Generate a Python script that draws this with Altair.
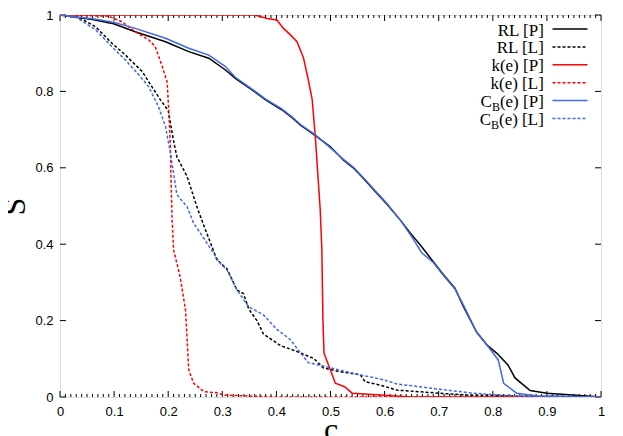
import altair as alt
import pandas as pd

# ---------------- data ----------------
rl_p_c = [0.0, 0.03, 0.06, 0.099, 0.139, 0.195, 0.238, 0.275, 0.306, 0.324, 0.355, 0.38, 0.41, 0.43, 0.444,
          0.472, 0.50, 0.524, 0.542, 0.561, 0.586, 0.604, 0.629, 0.650, 0.666, 0.690, 0.710, 0.730, 0.746,
          0.770, 0.790, 0.807, 0.828, 0.841, 0.869, 0.90, 0.948, 1.0]
rl_p_s = [1.0, 0.994, 0.988, 0.977, 0.956, 0.930, 0.904, 0.887, 0.856, 0.834, 0.804, 0.778, 0.752, 0.730, 0.712,
          0.684, 0.655, 0.620, 0.600, 0.572, 0.533, 0.505, 0.463, 0.425, 0.398, 0.354, 0.318, 0.285, 0.236,
          0.170, 0.135, 0.115, 0.084, 0.050, 0.017, 0.010, 0.005, 0.0]

rl_l_c = [0.0, 0.029, 0.066, 0.096, 0.121, 0.152, 0.170, 0.186, 0.200, 0.210, 0.216, 0.235, 0.253, 0.269,
          0.281, 0.290, 0.309, 0.327, 0.339, 0.349, 0.364, 0.376, 0.407, 0.438, 0.469, 0.487, 0.518, 0.555,
          0.564, 0.592, 0.623, 0.690, 0.752, 0.85, 1.0]
rl_l_s = [1.0, 0.998, 0.969, 0.926, 0.895, 0.852, 0.812, 0.777, 0.750, 0.670, 0.629, 0.577, 0.498, 0.437,
          0.393, 0.359, 0.335, 0.280, 0.271, 0.230, 0.200, 0.165, 0.135, 0.119, 0.101, 0.076, 0.066, 0.058,
          0.040, 0.031, 0.018, 0.011, 0.005, 0.002, 0.0]

kp_c = [0.0, 0.36, 0.383, 0.401, 0.413, 0.426, 0.438, 0.450, 0.459, 0.466, 0.472, 0.481, 0.484, 0.486,
        0.488, 0.509, 0.526, 0.540, 0.592, 0.65, 1.0]
kp_s = [1.0, 1.0, 0.991, 0.987, 0.965, 0.948, 0.930, 0.888, 0.830, 0.780, 0.680, 0.490, 0.385, 0.200,
        0.115, 0.036, 0.027, 0.010, 0.005, 0.0, 0.0]

kl_c = [0.0, 0.09, 0.115, 0.139, 0.164, 0.176, 0.189, 0.198, 0.201, 0.204, 0.205, 0.207, 0.210, 0.222,
        0.232, 0.238, 0.247, 0.266, 0.29, 0.303, 0.4, 1.0]
kl_s = [1.0, 0.997, 0.982, 0.956, 0.935, 0.917, 0.865, 0.825, 0.751, 0.660, 0.586, 0.472, 0.385, 0.315,
        0.228, 0.071, 0.036, 0.014, 0.011, 0.005, 0.0, 0.0]

cbp_c = [0.0, 0.03, 0.06, 0.099, 0.139, 0.195, 0.238, 0.275, 0.306, 0.324, 0.355, 0.38, 0.41, 0.43, 0.444,
         0.472, 0.50, 0.524, 0.542, 0.561, 0.586, 0.604, 0.629, 0.650, 0.669, 0.690, 0.710, 0.730, 0.746,
         0.770, 0.790, 0.810, 0.820, 0.844, 0.88, 1.0]
cbp_s = [1.0, 0.995, 0.990, 0.981, 0.965, 0.939, 0.913, 0.895, 0.865, 0.837, 0.806, 0.780, 0.754, 0.732, 0.714,
         0.686, 0.652, 0.622, 0.602, 0.574, 0.535, 0.507, 0.463, 0.420, 0.377, 0.352, 0.316, 0.283, 0.240,
         0.170, 0.135, 0.097, 0.036, 0.010, 0.003, 0.0]

cbl_c = [0.0, 0.029, 0.066, 0.096, 0.121, 0.146, 0.164, 0.182, 0.195, 0.204, 0.216, 0.235, 0.247, 0.266,
         0.284, 0.296, 0.309, 0.327, 0.349, 0.376, 0.401, 0.426, 0.444, 0.459, 0.487, 0.530, 0.555, 0.598,
         0.623, 0.715, 0.764, 0.813, 0.86, 1.0]
cbl_s = [1.0, 0.995, 0.961, 0.917, 0.882, 0.843, 0.812, 0.760, 0.708, 0.640, 0.530, 0.498, 0.455, 0.415,
         0.376, 0.350, 0.332, 0.280, 0.236, 0.215, 0.177, 0.150, 0.116, 0.090, 0.081, 0.066, 0.058, 0.045,
         0.034, 0.018, 0.010, 0.005, 0.001, 0.0]

x_major = [0, 0.1, 0.2, 0.3, 0.4, 0.5, 0.6, 0.7, 0.8, 0.9, 1]
x_minor = [i / 100 for i in range(1, 100) if i % 10 != 0]
y_major = [0, 0.2, 0.4, 0.6, 0.8, 1]

legend_main = ["RL [P]", "RL [L]", "k(e) [P]", "k(e) [L]", "(e) [P]", "(e) [L]"]
legend_pre = ["", "", "", "", "C", "C"]
legend_sub = ["", "", "", "", "B", "B"]

BLACK, RED, BLUE = "#000000", "#ff0000", "#4169e1"
DASH = [3, 2]
series = [
    (rl_p_c, rl_p_s, BLACK, None),
    (rl_l_c, rl_l_s, BLACK, DASH),
    (kp_c, kp_s, RED, None),
    (kl_c, kl_s, RED, DASH),
    (cbp_c, cbp_s, BLUE, None),
    (cbl_c, cbl_s, BLUE, DASH),
]

# ---------------- layout ----------------
W, H = 541, 382
SERIF = "Liberation Serif"
SANS = "Liberation Sans"
LW = 1.5

xs = alt.Scale(domain=[0, 1], nice=False, zero=False)
ys = alt.Scale(domain=[0, 1], nice=False, zero=False)

xaxis = alt.Axis(values=x_major, format="~g", grid=False, ticks=False, tickSize=0, domain=False,
                 labelFont=SANS, labelFontSize=13, labelColor="#000", labelPadding=8,
                 labelFlush=False, labelOverlap=False,
                 title="c", titleFont=SERIF, titleFontSize=32, titleFontWeight="normal",
                 titleColor="#000", titleBaseline="alphabetic", titleY=42)
yaxis = alt.Axis(values=y_major, format="~g", grid=False, ticks=False, tickSize=0, domain=False,
                 labelFont=SANS, labelFontSize=13, labelColor="#000", labelPadding=7,
                 labelFlush=False, labelOverlap=False,
                 title="S", titleFont=SERIF, titleFontSize=32, titleFontWeight="normal",
                 titleColor="#000", titleAngle=270, titleBaseline="alphabetic", titleX=-36)

X = lambda f: alt.X(f, scale=xs, axis=xaxis)
Y = lambda f: alt.Y(f, scale=ys, axis=yaxis)

layers = []

# tick marks (inward, gnuplot style)
def xt(vals, y1, y2):
    return alt.Chart(pd.DataFrame({"t": vals})).mark_rule(color="black", strokeWidth=1).encode(
        x=X("t:Q"), y=alt.value(y1), y2=alt.value(y2))

def yt(vals, x1, x2):
    return alt.Chart(pd.DataFrame({"t": vals})).mark_rule(color="black", strokeWidth=1).encode(
        y=Y("t:Q"), x=alt.value(x1), x2=alt.value(x2))

layers += [xt(x_minor, H, H - 3), xt(x_major, H, H - 6), xt(x_minor, 0, 3), xt(x_major, 0, 6),
           yt(y_major, 0, 6), yt(y_major, W, W - 6)]

# curves
for cs, ss, col, dash in series:
    mk = dict(color=col, strokeWidth=LW, clip=True)
    if dash:
        mk["strokeDash"] = dash
    layers.append(alt.Chart(pd.DataFrame({"c": cs, "S": ss})).mark_line(**mk).encode(
        x=X("c:Q"), y=Y("S:Q"), order="c:Q"))

# legend (inside top right)
TX = 483.8 / W
L1, L2 = 492.5 / W, 527.5 / W
rows_s = [1 - (14 + i * 17.9) / H for i in range(6)]

main_w = {"(e) [P]": 43.9, "(e) [L]": 44.8}

leg = pd.DataFrame({"c": [TX] * 6, "S": rows_s, "label": legend_main})
layers.append(alt.Chart(leg).mark_text(align="right", baseline="alphabetic", font=SERIF, fontSize=17,
                                       color="#000", dy=6.5).encode(x=X("c:Q"), y=Y("S:Q"), text="label:N"))
for i in range(6):
    if legend_sub[i]:
        w = main_w[legend_main[i]]
        d = pd.DataFrame({"c": [TX], "S": [rows_s[i]], "sub": [legend_sub[i]], "pre": [legend_pre[i]]})
        layers.append(alt.Chart(d).mark_text(align="right", baseline="alphabetic", font=SERIF, fontSize=12,
                                             color="#000", dy=10.5, dx=-w).encode(
            x=X("c:Q"), y=Y("S:Q"), text="sub:N"))
        layers.append(alt.Chart(d).mark_text(align="right", baseline="alphabetic", font=SERIF, fontSize=17,
                                             color="#000", dy=6.5, dx=-w - 8.0).encode(
            x=X("c:Q"), y=Y("S:Q"), text="pre:N"))
    cs, ss, col, dash = series[i]
    mk = dict(color=col, strokeWidth=LW)
    if dash:
        mk["strokeDash"] = dash
    d = pd.DataFrame({"c": [L1], "c2": [L2], "S": [rows_s[i]]})
    layers.append(alt.Chart(d).mark_rule(**mk).encode(x=X("c:Q"), x2="c2:Q", y=Y("S:Q")))

chart = alt.layer(*layers).properties(
    width=W, height=H,
    autosize=alt.AutoSizeParams(type="none"),
    padding={"left": 52, "top": 7, "right": 10, "bottom": 39},
).configure_view(stroke="black", strokeWidth=1.2).configure(background="white")

chart.save("out.html", embed_options={"renderer": "svg", "actions": False})
